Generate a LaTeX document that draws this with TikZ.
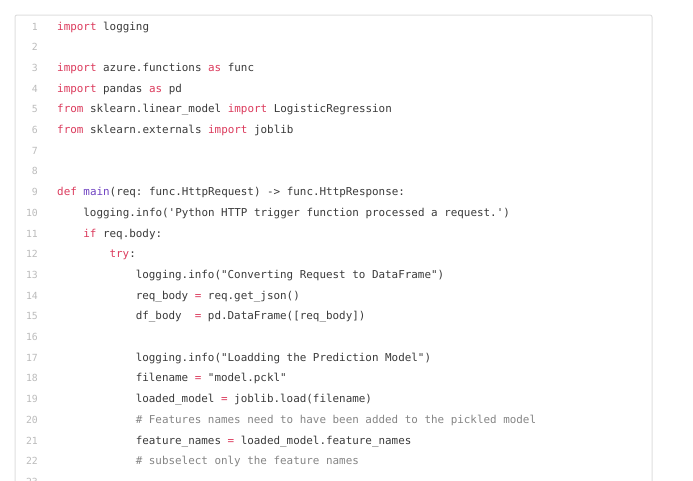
\documentclass[tikz,border=0pt]{standalone}
\usepackage{fontspec}
\setmonofont{DejaVu Sans Mono}
\usetikzlibrary{positioning}

\definecolor{codetext}{HTML}{3A3A3A}
\definecolor{keyword}{HTML}{DB3A5C}
\definecolor{funcname}{HTML}{6F42C1}
\definecolor{comment}{HTML}{858585}
\definecolor{lineno}{HTML}{BBBBBB}
\definecolor{boxgray}{HTML}{DEDEDE}

\newcommand{\kw}[1]{\textcolor{keyword}{#1}}
\newcommand{\fn}[1]{\textcolor{funcname}{#1}}
\newcommand{\op}[1]{\textcolor{keyword}{#1}}
\newcommand{\cm}[1]{\textcolor{comment}{#1}}

\begin{document}
\begin{tikzpicture}[x=1pt, y=-1pt,
  code/.style={anchor=base west, inner sep=0pt, text=codetext,
    font=\ttfamily\frenchspacing\fontsize{10.9}{13}\selectfont},
  num/.style={anchor=base east, inner sep=0pt, text=lineno,
    font=\ttfamily\fontsize{9.8}{12}\selectfont},
  frame/.style={draw=boxgray, line width=1pt, rounded corners=2pt}]

  \useasboundingbox (0,0) rectangle (693,480);
  \draw[frame] (15,15) rectangle (652,530);

  \foreach \n/\ind/\txt in {
    1/0/{\kw{import} logging},
    2/0/{},
    3/0/{\kw{import} azure.functions \kw{as} func},
    4/0/{\kw{import} pandas \kw{as} pd},
    5/0/{\kw{from} sklearn.linear\_model \kw{import} LogisticRegression},
    6/0/{\kw{from} sklearn.externals \kw{import} joblib},
    7/0/{},
    8/0/{},
    9/0/{\kw{def} \fn{main}(req: func.HttpRequest) -> func.HttpResponse:},
    10/4/{logging.info('Python HTTP trigger function processed a request.')},
    11/4/{\kw{if} req.body:},
    12/8/{\kw{try}:},
    13/12/{logging.info("Converting Request to DataFrame")},
    14/12/{req\_body \op{=} req.get\_json()},
    15/12/{df\_body\ \ \op{=} pd.DataFrame([req\_body])},
    16/0/{},
    17/12/{logging.info("Loadding the Prediction Model")},
    18/12/{filename \op{=} "model.pckl"},
    19/12/{loaded\_model \op{=} joblib.load(filename)},
    20/12/{\cm{\# Features names need to have been added to the pickled model}},
    21/12/{feature\_names \op{=} loaded\_model.feature\_names},
    22/12/{\cm{\# subselect only the feature names}},
    23/0/{}}
  {
    \node[num] (no\n) at (38, 30+20.7*\n-20.7) {\n};
    \node[code] (ln\n) at (57+6.55*\ind, 30+20.7*\n-20.7) {\txt};
  }
\end{tikzpicture}
\end{document}
